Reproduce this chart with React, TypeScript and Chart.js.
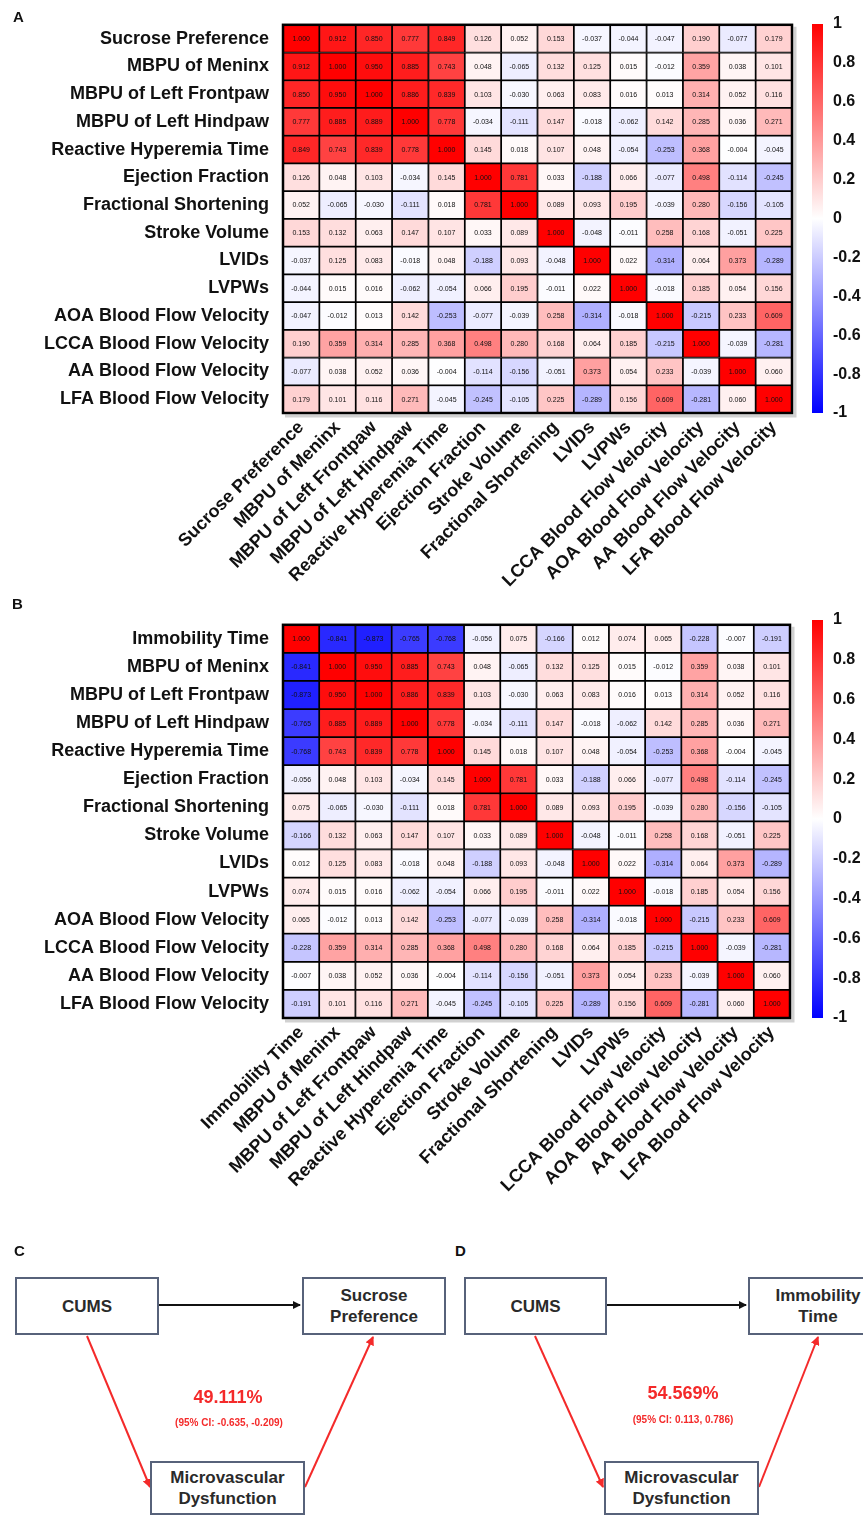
import React, { useEffect, useRef } from 'react';
import { Chart, registerables } from 'chart.js';
Chart.register(...registerables);

const FONT = "'Liberation Sans', Arial, Helvetica, sans-serif";

const rowLabelsA = [
  'Sucrose Preference', 'MBPU of Meninx', 'MBPU of Left Frontpaw', 'MBPU of Left Hindpaw',
  'Reactive Hyperemia Time', 'Ejection Fraction', 'Fractional Shortening', 'Stroke Volume',
  'LVIDs', 'LVPWs', 'AOA Blood Flow Velocity', 'LCCA Blood Flow Velocity',
  'AA Blood Flow Velocity', 'LFA Blood Flow Velocity',
];
const colLabelsA = [
  'Sucrose Preference', 'MBPU of Meninx', 'MBPU of Left Frontpaw', 'MBPU of Left Hindpaw',
  'Reactive Hyperemia Time', 'Ejection Fraction', 'Stroke Volume', 'Fractional Shortening',
  'LVIDs', 'LVPWs', 'LCCA Blood Flow Velocity', 'AOA Blood Flow Velocity',
  'AA Blood Flow Velocity', 'LFA Blood Flow Velocity',
];
const rowLabelsB = ['Immobility Time', ...rowLabelsA.slice(1)];
const colLabelsB = ['Immobility Time', ...colLabelsA.slice(1)];

const corrA = [
  [1.000, 0.912, 0.850, 0.777, 0.849, 0.126, 0.052, 0.153, -0.037, -0.044, -0.047, 0.190, -0.077, 0.179],
  [0.912, 1.000, 0.950, 0.885, 0.743, 0.048, -0.065, 0.132, 0.125, 0.015, -0.012, 0.359, 0.038, 0.101],
  [0.850, 0.950, 1.000, 0.886, 0.839, 0.103, -0.030, 0.063, 0.083, 0.016, 0.013, 0.314, 0.052, 0.116],
  [0.777, 0.885, 0.889, 1.000, 0.778, -0.034, -0.111, 0.147, -0.018, -0.062, 0.142, 0.285, 0.036, 0.271],
  [0.849, 0.743, 0.839, 0.778, 1.000, 0.145, 0.018, 0.107, 0.048, -0.054, -0.253, 0.368, -0.004, -0.045],
  [0.126, 0.048, 0.103, -0.034, 0.145, 1.000, 0.781, 0.033, -0.188, 0.066, -0.077, 0.498, -0.114, -0.245],
  [0.052, -0.065, -0.030, -0.111, 0.018, 0.781, 1.000, 0.089, 0.093, 0.195, -0.039, 0.280, -0.156, -0.105],
  [0.153, 0.132, 0.063, 0.147, 0.107, 0.033, 0.089, 1.000, -0.048, -0.011, 0.258, 0.168, -0.051, 0.225],
  [-0.037, 0.125, 0.083, -0.018, 0.048, -0.188, 0.093, -0.048, 1.000, 0.022, -0.314, 0.064, 0.373, -0.289],
  [-0.044, 0.015, 0.016, -0.062, -0.054, 0.066, 0.195, -0.011, 0.022, 1.000, -0.018, 0.185, 0.054, 0.156],
  [-0.047, -0.012, 0.013, 0.142, -0.253, -0.077, -0.039, 0.258, -0.314, -0.018, 1.000, -0.215, 0.233, 0.609],
  [0.190, 0.359, 0.314, 0.285, 0.368, 0.498, 0.280, 0.168, 0.064, 0.185, -0.215, 1.000, -0.039, -0.281],
  [-0.077, 0.038, 0.052, 0.036, -0.004, -0.114, -0.156, -0.051, 0.373, 0.054, 0.233, -0.039, 1.000, 0.060],
  [0.179, 0.101, 0.116, 0.271, -0.045, -0.245, -0.105, 0.225, -0.289, 0.156, 0.609, -0.281, 0.060, 1.000],
];

const immobilityCorr = [1.000, -0.841, -0.873, -0.765, -0.768, -0.056, 0.075, -0.166, 0.012, 0.074, 0.065, -0.228, -0.007, -0.191];

const corrB = corrA.map((row, i) =>
  i === 0 ? immobilityCorr.slice() : row.map((v, j) => (j === 0 ? immobilityCorr[i] : v))
);

const colorbarTicks = [1, 0.8, 0.6, 0.4, 0.2, 0, -0.2, -0.4, -0.6, -0.8, -1];

function colorFor(v: number) {
  if (v >= 0) {
    const c = Math.round(255 * (1 - v));
    return `rgb(255,${c},${c})`;
  }
  const c = Math.round(255 * (1 + v));
  return `rgb(${c},${c},255)`;
}

const W = 863;

function Heatmap(props: { rows: string[]; cols: string[]; values: number[][]; top: number; height: number; areaTop: number; areaBottom: number; areaRight: number }) {
  const ref = useRef<HTMLCanvasElement>(null);
  useEffect(() => {
    const { rows, cols, values, height, areaTop, areaBottom, areaRight } = props;
    const cellLabels = {
      id: 'cellLabels',
      afterDatasetsDraw(chart: any) {
        const ctx = chart.ctx;
        ctx.save();
        ctx.font = `7px ${FONT}`;
        ctx.fillStyle = '#111';
        ctx.textAlign = 'center';
        ctx.textBaseline = 'middle';
        chart.data.datasets.forEach((_ds: any, i: number) => {
          const meta = chart.getDatasetMeta(i);
          meta.data.forEach((el: any, j: number) => {
            const p = el.getCenterPoint();
            ctx.fillText(values[i][j].toFixed(3), p.x, p.y + 0.5);
          });
        });
        const a = chart.chartArea;
        ctx.strokeStyle = 'rgba(0,0,0,0.18)';
        ctx.lineWidth = 3;
        ctx.beginPath();
        ctx.moveTo(a.right + 3, a.top + 2);
        ctx.lineTo(a.right + 3, a.bottom + 3);
        ctx.lineTo(a.left + 2, a.bottom + 3);
        ctx.stroke();
        ctx.strokeStyle = '#000';
        ctx.lineWidth = 2.5;
        ctx.strokeRect(a.left, a.top, a.width, a.height);
        ctx.restore();
      },
    };
    const datasets = rows.map((r, i) => ({
      label: r,
      data: cols.map(() => 1),
      backgroundColor: values[i].map(colorFor),
      borderColor: '#000',
      borderWidth: 1.2,
      borderSkipped: false,
      barPercentage: 1,
      categoryPercentage: 1,
    }));
    const labelFont = { family: FONT, size: 18, weight: 'bold' as const };
    const chart = new Chart(ref.current as HTMLCanvasElement, {
      type: 'bar',
      data: { labels: cols, datasets },
      options: {
        animation: false,
        responsive: false,
        layout: { padding: { left: 0, right: W - areaRight, top: areaTop, bottom: 0 } },
        plugins: { legend: { display: false }, tooltip: { enabled: false } },
        scales: {
          x: {
            stacked: true,
            grid: { display: false, drawTicks: false, tickLength: 0 },
            border: { display: false },
            ticks: { autoSkip: false, maxRotation: 45, minRotation: 45, font: labelFont, color: '#111', padding: 4 },
            afterFit: (s: any) => { s.height = height - areaBottom; },
          },
          y: {
            stacked: true,
            reverse: true,
            min: 0,
            max: rows.length,
            grid: { display: false, drawTicks: false, tickLength: 0 },
            border: { display: false },
            afterBuildTicks: (axis: any) => { axis.ticks = rows.map((_r, i) => ({ value: i + 0.5 })); },
            ticks: { autoSkip: false, font: labelFont, color: '#111', padding: 14, callback: (_v: any, i: number) => rows[i] },
            afterFit: (s: any) => { s.width = 283; },
          },
        },
      } as any,
      plugins: [cellLabels],
    });
    return () => chart.destroy();
  }, []);
  return <canvas ref={ref} width={W} height={props.height} style={{ position: 'absolute', left: 0, top: props.top, width: W, height: props.height }} />;
}

function ColorBar(props: { top: number; height: number; areaTop: number; areaBottom: number }) {
  const ref = useRef<HTMLCanvasElement>(null);
  useEffect(() => {
    const { height, areaTop, areaBottom } = props;
    const chart = new Chart(ref.current as HTMLCanvasElement, {
      type: 'bar',
      data: {
        labels: [''],
        datasets: [{
          data: [[-1, 1]] as any,
          backgroundColor: (c: any) => {
            const ch = c.chart;
            const a = ch.chartArea;
            if (!a) return 'rgb(255,255,255)';
            const g = ch.ctx.createLinearGradient(0, a.top, 0, a.bottom);
            g.addColorStop(0, 'rgb(255,0,0)');
            g.addColorStop(0.5, 'rgb(255,255,255)');
            g.addColorStop(1, 'rgb(0,0,255)');
            return g;
          },
          borderWidth: 0,
          barPercentage: 1,
          categoryPercentage: 1,
        }],
      },
      options: {
        animation: false,
        responsive: false,
        layout: { padding: { left: 22, right: 0, top: areaTop, bottom: height - areaBottom } },
        plugins: { legend: { display: false }, tooltip: { enabled: false } },
        scales: {
          x: { display: false },
          y: {
            position: 'right',
            min: -1,
            max: 1,
            grid: { display: false, drawTicks: false, tickLength: 0 },
            border: { display: false },
            afterBuildTicks: (axis: any) => { axis.ticks = colorbarTicks.map((v) => ({ value: v })); },
            ticks: {
              font: { family: FONT, size: 16, weight: 'bold' },
              color: '#111',
              padding: 10,
              callback: (_v: any, i: number) => String(colorbarTicks[i]),
            },
            afterFit: (s: any) => { s.width = 40; },
          },
        },
      } as any,
    });
    return () => chart.destroy();
  }, []);
  return <canvas ref={ref} width={73} height={props.height} style={{ position: 'absolute', left: 790, top: props.top, width: 73, height: props.height }} />;
}

const boxStyle = (left: number, top: number, width: number, height: number): React.CSSProperties => ({
  position: 'absolute', left, top, width, height, boxSizing: 'border-box',
  border: '2px solid #57627a', background: '#fff', display: 'flex', alignItems: 'center',
  justifyContent: 'center', textAlign: 'center', fontFamily: FONT, fontWeight: 'bold',
  fontSize: 17, lineHeight: '21px', color: '#2a2a2a',
});

const letterStyle = (left: number, top: number): React.CSSProperties => ({
  position: 'absolute', left, top, fontFamily: FONT, fontWeight: 'bold', fontSize: 15, color: '#111', lineHeight: '15px',
});

const redText = (cx: number, cy: number, size: number, text: string) => (
  <div style={{ position: 'absolute', left: cx - 150, top: cy - size / 2 - 2, width: 300, textAlign: 'center', fontFamily: FONT, fontWeight: 'bold', fontSize: size, lineHeight: `${size + 4}px`, color: '#f42a2a' }}>{text}</div>
);

export default function App() {
  return (
    <div style={{ position: 'absolute', left: 0, top: 0, width: W, height: 1517, overflow: 'hidden', background: '#fff' }}>
      <Heatmap rows={rowLabelsA} cols={colLabelsA} values={corrA} top={0} height={600} areaTop={24} areaBottom={413} areaRight={792} />
      <ColorBar top={0} height={600} areaTop={24} areaBottom={413} />
      <Heatmap rows={rowLabelsB} cols={colLabelsB} values={corrB} top={600} height={620} areaTop={20} areaBottom={418} areaRight={790} />
      <ColorBar top={600} height={620} areaTop={20} areaBottom={418} />
      <div style={letterStyle(13, 9)}>A</div>
      <div style={letterStyle(12, 596)}>B</div>
      <div style={letterStyle(14, 1243)}>C</div>
      <div style={letterStyle(455, 1243)}>D</div>

      <svg width={W} height={1517} style={{ position: 'absolute', left: 0, top: 0 }}>
        <defs>
          <marker id="ab" markerWidth="8" markerHeight="8" refX="7" refY="4" orient="auto" markerUnits="userSpaceOnUse">
            <path d="M0,0 L8,4 L0,8 z" fill="#111" />
          </marker>
          <marker id="ar" markerWidth="9" markerHeight="9" refX="8" refY="4.5" orient="auto" markerUnits="userSpaceOnUse">
            <path d="M0,0 L9,4.5 L0,9 z" fill="#f42a2a" />
          </marker>
        </defs>
        <line x1={159} y1={1305} x2={300} y2={1305} stroke="#111" strokeWidth={1.8} markerEnd="url(#ab)" />
        <line x1={87} y1={1336} x2={150} y2={1487} stroke="#f42a2a" strokeWidth={2} markerEnd="url(#ar)" />
        <line x1={305} y1={1487} x2={373} y2={1337} stroke="#f42a2a" strokeWidth={2} markerEnd="url(#ar)" />
        <line x1={607} y1={1305} x2={746} y2={1305} stroke="#111" strokeWidth={1.8} markerEnd="url(#ab)" />
        <line x1={535} y1={1336} x2={603} y2={1487} stroke="#f42a2a" strokeWidth={2} markerEnd="url(#ar)" />
        <line x1={759} y1={1487} x2={818} y2={1337} stroke="#f42a2a" strokeWidth={2} markerEnd="url(#ar)" />
      </svg>

      <div style={boxStyle(15, 1277, 144, 58)}>CUMS</div>
      <div style={boxStyle(302, 1277, 144, 58)}>Sucrose<br />Preference</div>
      <div style={boxStyle(150, 1461, 155, 54)}>Microvascular<br />Dysfunction</div>
      {redText(228, 1397, 18, '49.111%')}
      {redText(229, 1423, 10, '(95% CI: -0.635, -0.209)')}

      <div style={boxStyle(464, 1277, 143, 58)}>CUMS</div>
      <div style={boxStyle(748, 1277, 140, 58)}>Immobility<br />Time</div>
      <div style={boxStyle(604, 1461, 155, 54)}>Microvascular<br />Dysfunction</div>
      {redText(683, 1393, 18, '54.569%')}
      {redText(683, 1420, 10, '(95% CI: 0.113, 0.786)')}
    </div>
  );
}
